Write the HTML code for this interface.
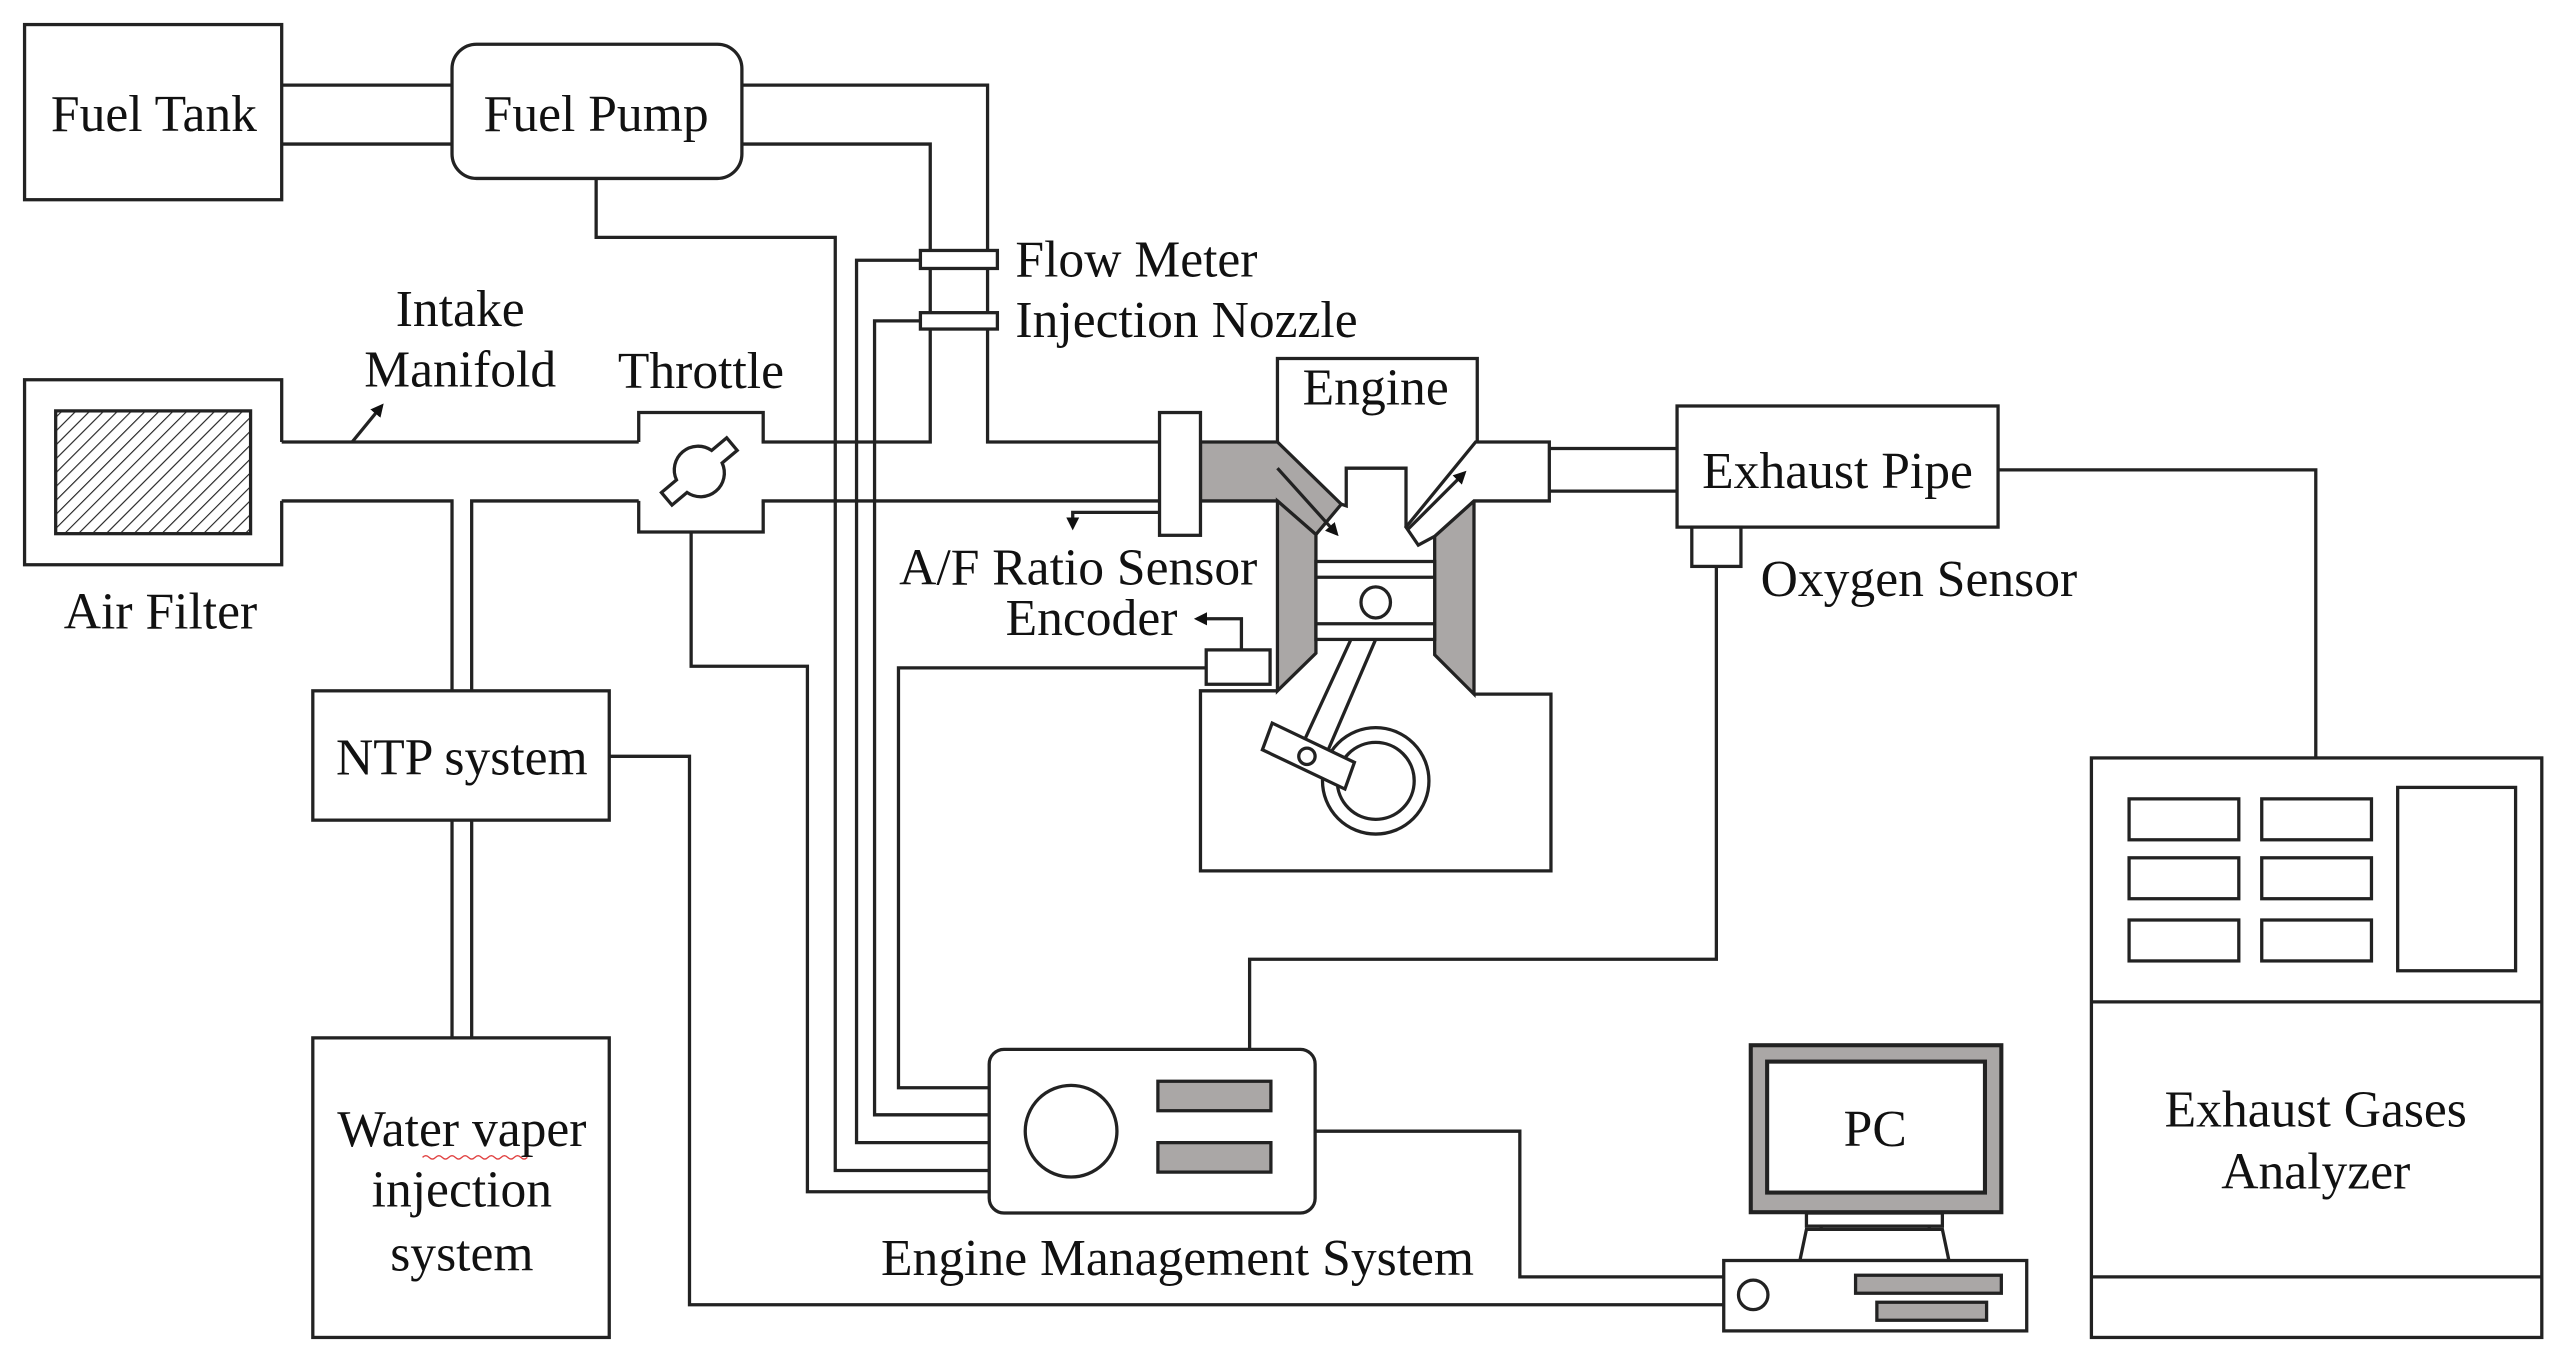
<!DOCTYPE html>
<html><head><meta charset="utf-8"><style>
html,body{margin:0;padding:0;background:#fff;}
svg{display:block;}
text{font-family:"Liberation Serif",serif;font-size:31.5px;fill:#111;}
</style></head><body>
<svg width="2568" height="1362" viewBox="0 0 1568 832" preserveAspectRatio="none" xmlns="http://www.w3.org/2000/svg">
<defs>
<pattern id="h" width="6" height="6" patternUnits="userSpaceOnUse" patternTransform="rotate(45)">
<line x1="0" y1="0" x2="0" y2="6" stroke="#222" stroke-width="1.4"/>
</pattern>
<marker id="ah" markerWidth="8" markerHeight="8" refX="6" refY="4" orient="auto" markerUnits="userSpaceOnUse">
<path d="M0,0 L8,4 L0,8 z" fill="#111"/>
</marker>
</defs>
<rect width="1568" height="832" fill="#fff"/>
<g fill="none" stroke="#222" stroke-width="2">
<rect x="15" y="15" width="157" height="107" fill="#fff"/>
<rect x="276" y="27" width="177" height="82" rx="15" fill="#fff"/>
<line x1="172" y1="52" x2="276" y2="52"/>
<line x1="172" y1="88" x2="276" y2="88"/>
<polyline points="453,52 603,52 603,270 708,270"/>
<polyline points="453,88 568,88 568,270 465,270"/>
<polyline points="364,109 364,145 510,145 510,715 604,715"/>
<polyline points="562,159 523,159 523,698 604,698"/>
<polyline points="562,196 534,196 534,681 604,681"/>
<rect x="562" y="153" width="47" height="11" fill="#fff"/>
<rect x="562" y="191" width="47" height="10" fill="#fff"/>
<polyline points="172,270 172,232 15,232 15,345 172,345 172,306"/>
<rect x="34" y="251" width="119" height="75" fill="url(#h)"/>
<line x1="172" y1="270" x2="390" y2="270"/>
<polyline points="172,306 276,306 276,422"/>
<polyline points="288,422 288,306 390,306"/>
<line x1="465" y1="306" x2="708" y2="306"/>
<polyline points="390,270 390,252 466,252 466,270"/>
<polyline points="390,306 390,325 466,325 466,306"/>
<g transform="translate(427,288) rotate(-40)">
<path d="M-14,-5 A14.5,14.5 0 0 1 14,-5 L26,-5 L26,5 L14,5 A14.5,14.5 0 0 1 -14,5 L-26,5 L-26,-5 Z"/>
</g>
<polyline points="422,325 422,407 493,407 493,728 604,728"/>
<line x1="215" y1="270" x2="233" y2="248" marker-end="url(#ah)"/>
<rect x="191" y="422" width="181" height="79" fill="#fff"/>
<line x1="276" y1="501" x2="276" y2="634"/>
<line x1="288" y1="501" x2="288" y2="634"/>
<rect x="191" y="634" width="181" height="183" fill="#fff"/>
<polyline points="372,462 421,462 421,797 1052,797"/>
<polyline points="708,313 655,313 655,322" marker-end="url(#ah)"/>
<polyline points="780,270 780,219 902,219 902,270"/>
<polygon points="733,270 780,270 819,308 803.5,326.5 780,306 733,306" fill="#aaa7a6"/>
<polygon points="780,306 803.5,326.5 803.5,399 780,422" fill="#aaa7a6"/>
<polygon points="900,306 876,327.6 876,400 900,424" fill="#aaa7a6"/>
<polyline points="819,308 822,309 822,286 858.5,286 858.5,322"/>
<polygon points="946,270 901,270 858.5,322 866,333 876,327.6 900,306 946,306" fill="#fff"/>
<rect x="708" y="252" width="25" height="75" fill="#fff"/>
<line x1="780" y1="286" x2="816" y2="326" marker-end="url(#ah)"/>
<line x1="860" y1="323" x2="894" y2="289" marker-end="url(#ah)"/>
<rect x="803.5" y="343" width="72.5" height="47.6" fill="#fff"/>
<line x1="803.5" y1="352.6" x2="876" y2="352.6"/>
<line x1="803.5" y1="381" x2="876" y2="381"/>
<ellipse cx="840" cy="368" rx="9" ry="9.5"/>
<polyline points="780,422 733,422 733,532 947,532 947,424 900,424"/>
<circle cx="840" cy="477" r="32.5" fill="#fff"/>
<circle cx="840" cy="477" r="23.5"/>
<line x1="824.7" y1="391" x2="797" y2="451"/>
<line x1="839.8" y1="391" x2="811" y2="458"/>
<polygon points="770.8,458 776.8,441.7 827,465.7 821.2,482" fill="#fff"/>
<circle cx="798" cy="462" r="5"/>
<rect x="736.5" y="397" width="39" height="21" fill="#fff"/>
<polyline points="736.5,408 548.6,408 548.6,664.5 604,664.5"/>
<polyline points="758,397 758,378 731,378" marker-end="url(#ah)"/>
<line x1="946" y1="274" x2="1024" y2="274"/>
<line x1="946" y1="300" x2="1024" y2="300"/>
<rect x="1024" y="248" width="196" height="74" fill="#fff"/>
<rect x="1033" y="322" width="30" height="24" fill="#fff"/>
<polyline points="1220,287 1414,287 1414,463"/>
<polyline points="1048,346 1048,586 763,586 763,641"/>
<rect x="604" y="641" width="199" height="100" rx="9" fill="#fff"/>
<circle cx="654" cy="691" r="28"/>
<rect x="707" y="660.5" width="69" height="18" fill="#aaa7a6"/>
<rect x="707" y="698" width="69" height="18" fill="#aaa7a6"/>
<polyline points="803,691 928,691 928,780 1052,780"/>
<rect x="1069" y="638.5" width="153" height="102" fill="#aaa7a6" stroke-width="2.5"/>
<rect x="1079" y="648.5" width="133" height="80" fill="#fff" stroke-width="2.5"/>
<rect x="1103" y="741" width="83" height="8" fill="#fff"/>
<rect x="1112" y="749" width="66" height="7" fill="#fff"/>
<polygon points="1103,751 1186,751 1190,770 1099,770" fill="#fff"/>
<rect x="1052.5" y="770" width="185" height="43" fill="#fff"/>
<circle cx="1070.5" cy="791" r="9"/>
<rect x="1133" y="779" width="89" height="11" fill="#aaa7a6"/>
<rect x="1146" y="795.5" width="67" height="11" fill="#aaa7a6"/>
<rect x="1277" y="463" width="275" height="354" fill="#fff"/>
<line x1="1277" y1="612" x2="1552" y2="612"/>
<line x1="1277" y1="780" x2="1552" y2="780"/>
<rect x="1300" y="488" width="67" height="25"/>
<rect x="1381" y="488" width="67" height="25"/>
<rect x="1300" y="524" width="67" height="25"/>
<rect x="1381" y="524" width="67" height="25"/>
<rect x="1300" y="562" width="67" height="25"/>
<rect x="1381" y="562" width="67" height="25"/>
<rect x="1464" y="481" width="72" height="112"/>
</g>
<path d="M258,707 q2,-2 4,0 t4,0 t4,0 t4,0 t4,0 t4,0 t4,0 t4,0 t4,0 t4,0 t4,0 t4,0 t4,0 t4,0 t4,0 t4,0" fill="none" stroke="#e04040" stroke-width="0.8"/>
<text x="94" y="80" text-anchor="middle">Fuel Tank</text>
<text x="364" y="80" text-anchor="middle">Fuel Pump</text>
<text x="620" y="169">Flow Meter</text>
<text x="620" y="206">Injection Nozzle</text>
<text x="281" y="199" text-anchor="middle">Intake</text>
<text x="281" y="236" text-anchor="middle">Manifold</text>
<text x="428" y="237" text-anchor="middle">Throttle</text>
<text x="840" y="247" text-anchor="middle">Engine</text>
<text x="1122" y="298" text-anchor="middle">Exhaust Pipe</text>
<text x="1075" y="364">Oxygen Sensor</text>
<text x="549" y="357">A/F Ratio Sensor</text>
<text x="614" y="388">Encoder</text>
<text x="98" y="384" text-anchor="middle">Air Filter</text>
<text x="282" y="473" text-anchor="middle">NTP system</text>
<text x="282" y="700" text-anchor="middle">Water vaper</text>
<text x="282" y="737" text-anchor="middle">injection</text>
<text x="282" y="776" text-anchor="middle">system</text>
<text x="719" y="779" text-anchor="middle">Engine Management System</text>
<text x="1145" y="700" text-anchor="middle">PC</text>
<text x="1414" y="688" text-anchor="middle">Exhaust Gases</text>
<text x="1414" y="726" text-anchor="middle">Analyzer</text>
</svg>
</body></html>
